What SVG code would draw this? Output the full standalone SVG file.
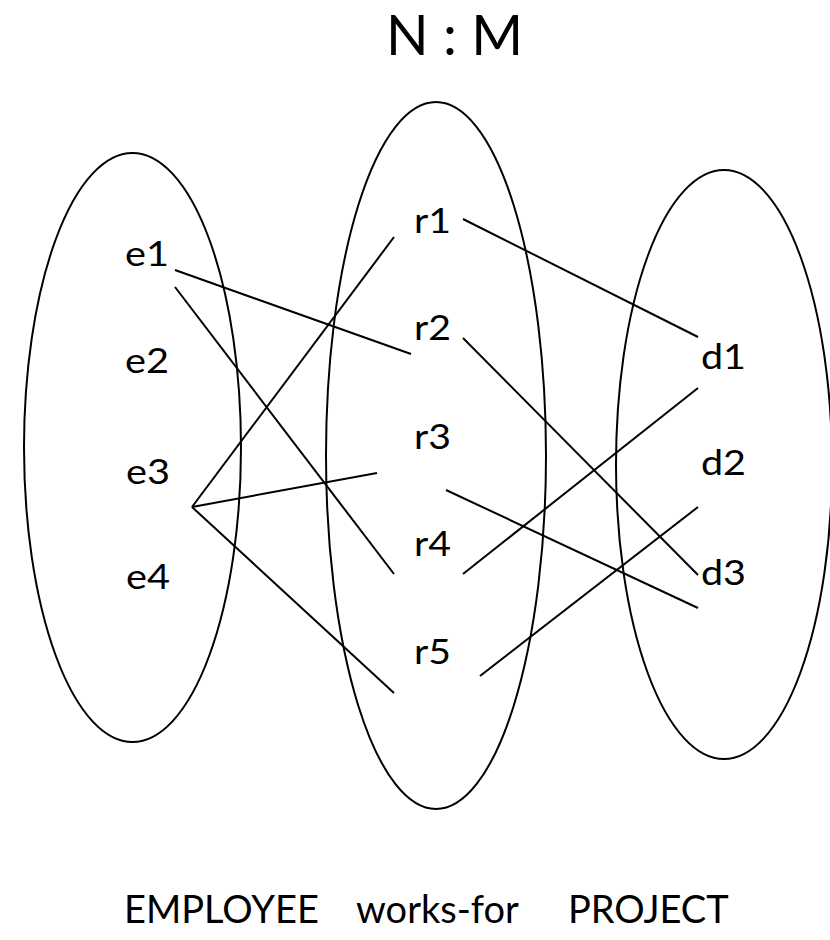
<svg xmlns="http://www.w3.org/2000/svg" width="830" height="940" viewBox="0 0 830 940">
<style>
.set{fill:none;stroke:#000;stroke-width:2}
.lbl{font-family:Lato,"Open Sans","Liberation Sans",sans-serif;font-size:34px;fill:#000}
.title{font-family:Lato,"Open Sans","Liberation Sans",sans-serif;font-size:57px;fill:#000}
.cap{font-family:Lato,"Open Sans","Liberation Sans",sans-serif;font-size:38px;fill:#000}
#connectors line{stroke:#000;stroke-width:2;stroke-linecap:butt}
</style>
<rect width="830" height="940" fill="#fff"/>
<g id="title"><text class="title" x="386" y="55" textLength="137" lengthAdjust="spacingAndGlyphs">N : M</text></g>
<g id="employee-set"><ellipse class="set" cx="132.5" cy="447.5" rx="108.5" ry="294.5"/></g>
<g id="works-for-set"><ellipse class="set" cx="436" cy="455.5" rx="110" ry="353.5"/></g>
<g id="project-set"><ellipse class="set" cx="724" cy="464.5" rx="108" ry="294.5"/></g>
<g id="e1"><text class="lbl" x="125" y="266" textLength="44" lengthAdjust="spacingAndGlyphs">e1</text></g>
<g id="e2"><text class="lbl" x="125" y="373" textLength="44" lengthAdjust="spacingAndGlyphs">e2</text></g>
<g id="e3"><text class="lbl" x="126" y="484" textLength="44" lengthAdjust="spacingAndGlyphs">e3</text></g>
<g id="e4"><text class="lbl" x="126" y="589" textLength="44" lengthAdjust="spacingAndGlyphs">e4</text></g>
<g id="r1"><text class="lbl" x="414" y="233" textLength="37" lengthAdjust="spacingAndGlyphs">r1</text></g>
<g id="r2"><text class="lbl" x="414" y="340" textLength="37" lengthAdjust="spacingAndGlyphs">r2</text></g>
<g id="r3"><text class="lbl" x="414" y="449" textLength="37" lengthAdjust="spacingAndGlyphs">r3</text></g>
<g id="r4"><text class="lbl" x="414" y="556" textLength="37" lengthAdjust="spacingAndGlyphs">r4</text></g>
<g id="r5"><text class="lbl" x="414" y="664" textLength="37" lengthAdjust="spacingAndGlyphs">r5</text></g>
<g id="d1"><text class="lbl" x="701" y="369" textLength="45" lengthAdjust="spacingAndGlyphs">d1</text></g>
<g id="d2"><text class="lbl" x="701" y="475" textLength="45" lengthAdjust="spacingAndGlyphs">d2</text></g>
<g id="d3"><text class="lbl" x="701" y="585" textLength="45" lengthAdjust="spacingAndGlyphs">d3</text></g>
<g id="connectors">
<line x1="463" y1="219" x2="698" y2="337"/>
<line x1="175" y1="270" x2="411" y2="354"/>
<line x1="175" y1="287" x2="394" y2="574"/>
<line x1="192" y1="507" x2="394" y2="237"/>
<line x1="192" y1="507" x2="377" y2="473"/>
<line x1="192" y1="507" x2="394" y2="693"/>
<line x1="463" y1="338" x2="698" y2="575"/>
<line x1="698" y1="388" x2="463" y2="574"/>
<line x1="446" y1="490" x2="698" y2="608"/>
<line x1="698" y1="507" x2="480" y2="676"/>
</g>
<g id="caption">
<text class="cap" x="124" y="923">EMPLOYEE</text>
<text class="cap" x="356" y="923">works-for</text>
<text class="cap" x="568" y="923">PROJECT</text>
</g>
</svg>
